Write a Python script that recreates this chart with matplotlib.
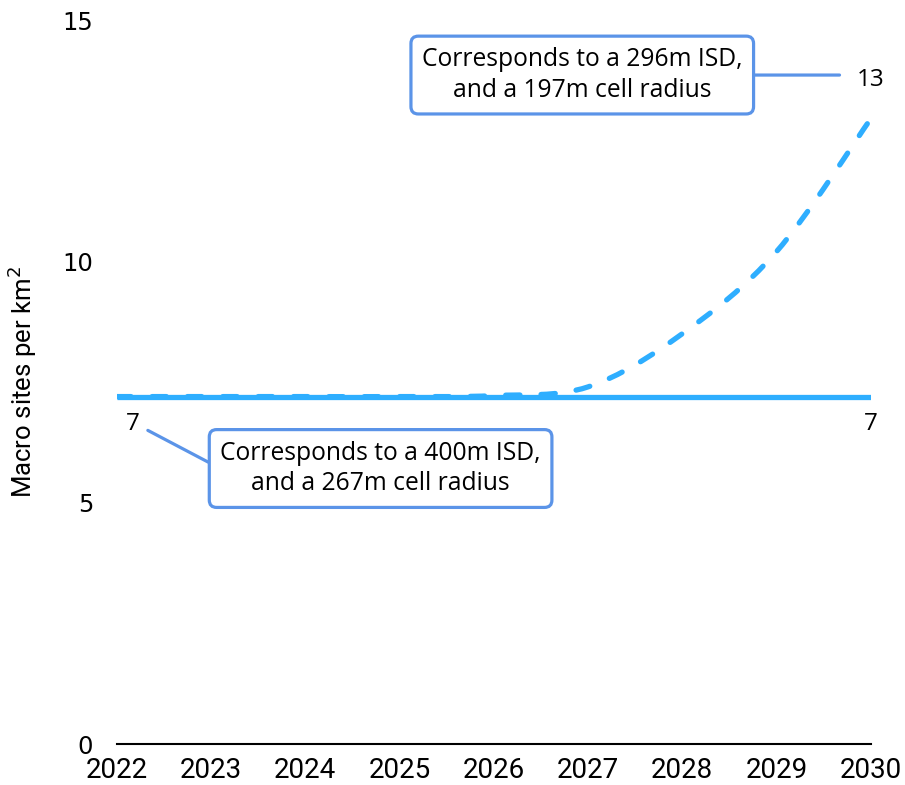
import numpy as np
import matplotlib
matplotlib.use("Agg")
import matplotlib.pyplot as plt
from matplotlib.path import Path
from matplotlib.patches import PathPatch
from matplotlib import font_manager

years = [2022, 2023, 2024, 2025, 2026, 2027, 2028, 2029, 2030]
baseline = [7.2, 7.2, 7.2, 7.2, 7.2, 7.2, 7.2, 7.2, 7.2]
projected = [7.2, 7.2, 7.2, 7.2, 7.22, 7.4, 8.5, 10.2, 12.95]
yticks = [0, 5, 10, 15]

names = {f.name for f in font_manager.fontManager.ttflist}
narrow = "Liberation Sans Narrow" if "Liberation Sans Narrow" in names else "Roboto"
body = "Open Sans"

line_col = "#2eaeff"
box_col = "#5b94e8"

fig = plt.figure(figsize=(9.05, 7.85), dpi=100)
ax = fig.add_axes([0.129, 0.052, 0.833, 0.9225])

ax.plot(years, baseline, color=line_col, lw=3.8, solid_capstyle="butt", zorder=3)


def smooth_path(xs, ys):
    # Catmull-Rom through the points, written as cubic beziers
    pts = np.column_stack([xs, ys]).astype(float)
    verts = [pts[0]]
    codes = [Path.MOVETO]
    n = len(pts)
    for i in range(n - 1):
        p0 = pts[i - 1] if i > 0 else pts[i]
        p1 = pts[i]
        p2 = pts[i + 1]
        p3 = pts[i + 2] if i + 2 < n else pts[i + 1]
        c1 = p1 + (p2 - p0) / 6.0
        c2 = p2 - (p3 - p1) / 6.0
        verts += [c1, c2, p2]
        codes += [Path.CURVE4] * 3
    return Path(verts, codes)


dash = PathPatch(smooth_path(years, projected), fill=False, edgecolor=line_col,
                 lw=3.8, linestyle=(0, (2.7, 4.0)), capstyle="round", zorder=4)
ax.add_patch(dash)

ax.set_xlim(2022, 2030)
ax.set_ylim(0, 15)
ax.set_xticks(years)
ax.set_yticks(yticks)
for s in ["top", "right", "left"]:
    ax.spines[s].set_visible(False)
ax.spines["bottom"].set_linewidth(1.5)
ax.tick_params(axis="both", length=0)
ax.tick_params(axis="y", pad=17, labelsize=17.5)
ax.tick_params(axis="x", pad=9, labelsize=20)
for t in ax.get_xticklabels():
    t.set_fontfamily(narrow)
for t in ax.get_yticklabels():
    t.set_fontfamily("DejaVu Sans")
ax.set_ylabel("Macro sites per km$^2$", fontsize=18.5, family=narrow)
ax.yaxis.set_label_coords(-0.103, 0.5)

# end value labels
ax.text(2022.17, 6.63, "7", ha="center", va="center", fontsize=17.5, family=body)
ax.text(years[-1], 6.63, "7", ha="center", va="center", fontsize=17.5, family=body)
ax.text(years[-1], 13.76, "13", ha="center", va="center", fontsize=17.5, family=body)

bbox = dict(boxstyle="round,pad=0.45,rounding_size=0.3", fc="white",
            ec=box_col, lw=2.3)
ax.annotate("Corresponds to a 296m ISD,\nand a 197m cell radius",
            xy=(2029.67, 13.86), xytext=(2026.94, 13.86),
            ha="center", va="center", fontsize=17.7, family=body,
            linespacing=1.3, bbox=bbox,
            arrowprops=dict(arrowstyle="-", color=box_col, lw=2.3,
                            shrinkA=0, shrinkB=0, relpos=(1, 0.5)))
ax.annotate("Corresponds to a 400m ISD,\nand a 267m cell radius",
            xy=(2022.33, 6.5), xytext=(2024.8, 5.71),
            ha="center", va="center", fontsize=17.7, family=body,
            linespacing=1.3, bbox=bbox,
            arrowprops=dict(arrowstyle="-", color=box_col, lw=2.3,
                            shrinkA=0, shrinkB=0, relpos=(0, 0.5)))

fig.savefig("out.png", dpi=100)
